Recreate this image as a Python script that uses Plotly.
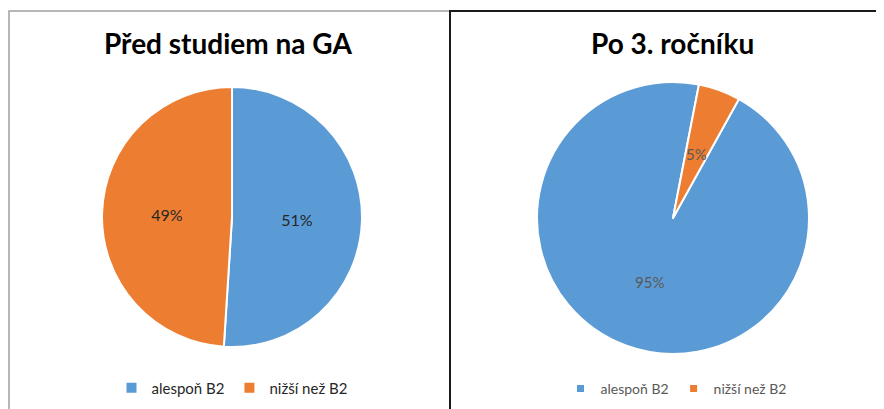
import math
import plotly.graph_objects as go

# The page body has an 8px margin, so the figure is drawn 8px smaller and
# reference pixel coordinates are shifted by that offset.
OFF = 8
W, H = 884 - OFF, 409 - OFF

categories = ["alespoň B2", "nižší než B2"]
before_values = [51, 49]
after_values = [95, 5]
titles = ["Před studiem na GA", "Po 3. ročníku"]
colors = ["#5B9BD5", "#ED7D31"]

def px(x):
    return (x - OFF) / W

def py(y):
    return 1 - (y - OFF) / H

left_dom = dict(x=[px(102), px(362)], y=[py(347), py(87)])
right_dom = dict(x=[px(537), px(809)], y=[py(354), py(82)])
right_rotation = 29

fig = go.Figure()

fig.add_trace(go.Pie(
    labels=categories, values=before_values, sort=False, direction="clockwise",
    rotation=0, marker=dict(colors=colors, line=dict(color="white", width=2)),
    texttemplate="%{percent:.0%}", textposition="inside",
    insidetextorientation="horizontal",
    textfont=dict(family="Lato", size=16, color="#262626"),
    domain=left_dom,
    legend="legend", showlegend=True, hoverinfo="label+percent",
))

total = sum(after_values)
fig.add_trace(go.Pie(
    labels=categories, values=after_values, sort=False, direction="clockwise",
    rotation=right_rotation, marker=dict(colors=colors, line=dict(color="white", width=2)),
    texttemplate=["%{percent:.0%}", ""], textposition="inside",
    insidetextorientation="horizontal",
    textfont=dict(family="Lato", size=15, color="#595959"),
    domain=right_dom,
    showlegend=False, hoverinfo="label+percent",
))

# legend of the right chart (pie legend entries are shared between pies with
# the same labels, so it gets its own marker entries)
for name, col in zip(categories, colors):
    fig.add_trace(go.Scatter(
        x=[None], y=[None], mode="markers", name=name,
        marker=dict(symbol="square", size=7, color=col),
        legend="legend2", showlegend=True, hoverinfo="skip",
    ))

# thin slice labelled at half radius in the middle of its angle (as in Excel)
cx = (right_dom["x"][0] + right_dom["x"][1]) / 2 * W
cy = (1 - (right_dom["y"][0] + right_dom["y"][1]) / 2) * H
r = (right_dom["x"][1] - right_dom["x"][0]) * W / 2
start = right_rotation + after_values[0] / total * 360
mid = math.radians(start + after_values[1] / total * 360 / 2)
lx = cx + 0.5 * r * math.sin(mid)
ly = cy - 0.5 * r * math.cos(mid)

shapes = [
    dict(type="path", path=f"M {px(9)} {py(420)} L {px(9)} {py(11)} L {px(450)} {py(11)}",
         xref="paper", yref="paper", line=dict(color="#A0A0A0", width=1.5)),
    dict(type="path", path=f"M {px(450)} {py(420)} L {px(450)} {py(11)} L {px(900)} {py(11)}",
         xref="paper", yref="paper", line=dict(color="#1a1a1a", width=2)),
]

annotations = [
    dict(text=titles[0], x=px(228), y=py(43), xref="paper", yref="paper",
         showarrow=False, xanchor="center", yanchor="middle",
         font=dict(family="Lato", size=28, color="black", weight="bold")),
    dict(text=titles[1], x=px(672), y=py(43), xref="paper", yref="paper",
         showarrow=False, xanchor="center", yanchor="middle",
         font=dict(family="Lato", size=28, color="black", weight="bold")),
    dict(text=f"{after_values[1] / total:.0%}", x=lx / W, y=1 - ly / H,
         xref="paper", yref="paper", showarrow=False,
         xanchor="center", yanchor="middle",
         font=dict(family="Lato", size=15, color="#595959")),
]

fig.update_layout(
    width=W, height=H, margin=dict(l=0, r=0, t=0, b=0),
    paper_bgcolor="white", plot_bgcolor="white",
    xaxis=dict(visible=False), yaxis=dict(visible=False),
    shapes=shapes, annotations=annotations,
    legend=dict(orientation="h", x=px(232), y=py(388), xanchor="center", yanchor="middle",
                font=dict(family="Lato", size=15, color="#262626"), itemwidth=30,
                bgcolor="rgba(0,0,0,0)"),
    legend2=dict(orientation="h", x=px(676), y=py(389), xanchor="center", yanchor="middle",
                 font=dict(family="Lato", size=14, color="#595959"), itemwidth=30,
                 bgcolor="rgba(0,0,0,0)"),
)

fig.write_html("out.html")
